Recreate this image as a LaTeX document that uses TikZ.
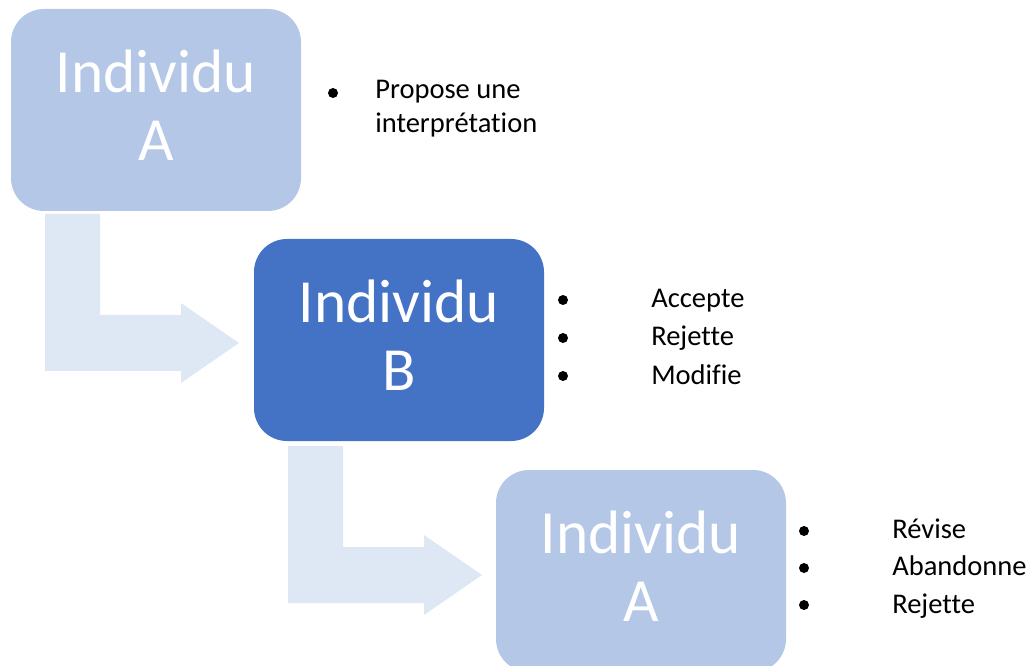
\documentclass[tikz,border=0pt]{standalone}
\usepackage{fontspec}
\setmainfont[RawFeature={-liga;-clig;-calt;-dlig}]{Carlito}
\definecolor{pale}{HTML}{B4C7E7}
\definecolor{deep}{HTML}{4472C4}
\definecolor{arrowblue}{HTML}{DEE8F5}
\tikzset{
	box/.style={rounded corners=24.75pt, minimum width=217.5pt, minimum height=151.5pt, inner sep=0pt, text depth=7pt, text=white, align=center, font=\fontsize{46}{51}\selectfont},
	dot/.style={circle, fill=black, inner sep=0pt, minimum size=7.5pt},
	item/.style={anchor=base west, inner sep=0pt, font=\fontsize{21.4}{25}\selectfont}
}
\begin{document}
\begin{tikzpicture}[x=0.75pt, y=-0.75pt]
	\useasboundingbox (0,0) rectangle (1031,666);
	% bent arrows
	\foreach \dx/\dy in {0/0, 243/232} {
		\fill[arrowblue, shift={(\dx,\dy)}] (45,214) -- (100,214) -- (100,315) -- (181,315) -- (181,303) -- (239,343) -- (181,383) -- (181,371) -- (45,371) -- cycle;
	}
	\node[box, fill=pale] (A1) at (156,110) {Individu\\A};
	\node[box, fill=deep] (B) at (399,340) {Individu\\B};
	\node[box, fill=pale] (A2) at (641,571) {Individu\\A};
	% lists
	\node[dot] (dA1) at (333,93) {};
	\node[item] (tA1) at (375,99) {Propose une};
	\node[item] (tA1b) at (375,133) {interprétation};
	\foreach \t [count=\i] in {Accepte, Rejette, Modifie} {
		\node[dot] (dB\i) at (563,{300+38*(\i-1)}) {};
		\node[item] (tB\i) at (651,{308+38*(\i-1)}) {\t};
	}
	\foreach \t [count=\i] in {Révise, Abandonne, Rejette} {
		\node[dot] (dA2\i) at (804,{531+37*(\i-1)}) {};
		\node[item] (tA2\i) at (892,{538+37.5*(\i-1)}) {\t};
	}
\end{tikzpicture}
\end{document}
